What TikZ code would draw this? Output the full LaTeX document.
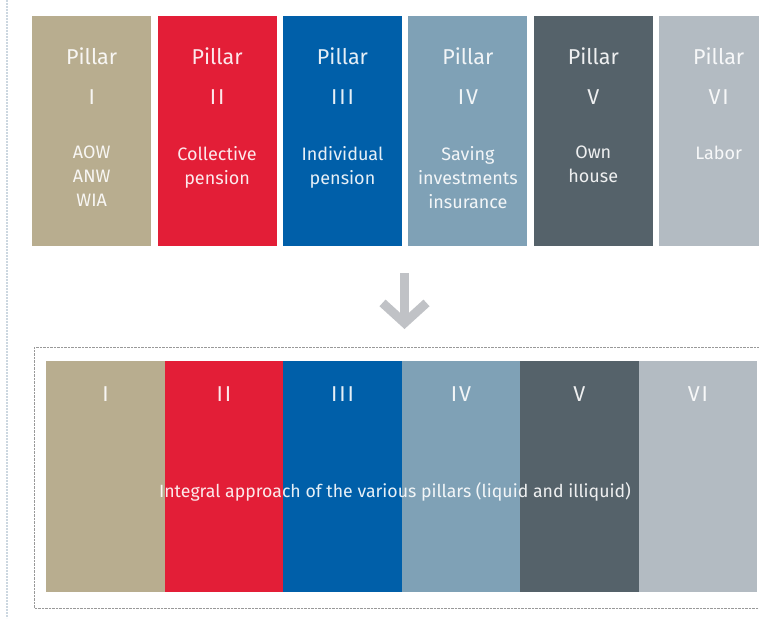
\documentclass[tikz,border=0pt]{standalone}
\usepackage{fontspec}
\setmainfont{Fira Sans}
\newfontfamily\romfont{Fira Sans}[LetterSpace=9]
\usetikzlibrary{arrows.meta,calc}

\definecolor{pbeige}{HTML}{B8AD8F}
\definecolor{pred}{HTML}{E31E37}
\definecolor{pblue}{HTML}{005FA9}
\definecolor{psteel}{HTML}{7FA1B6}
\definecolor{pslate}{HTML}{55626A}
\definecolor{pgrey}{HTML}{B3BBC2}
\definecolor{arrowgrey}{HTML}{C0C2C6}
\definecolor{edgeblue}{HTML}{CCD7E0}

\tikzset{
  pillar/.style={fill=#1, inner sep=0pt, anchor=north west,
    minimum width=119pt, minimum height=230pt},
  strip/.style={fill=#1, inner sep=0pt, anchor=north west,
    minimum width=118.5pt, minimum height=231pt},
  headtxt/.style={text=white, text opacity=0.9, anchor=base, inner sep=0pt,
    font=\fontsize{21.5}{26}\selectfont},
  numtxt/.style={headtxt, font=\romfont\fontsize{21.5}{26}\selectfont},
  desctxt/.style={text=white, text opacity=0.9, anchor=north, inner sep=0pt,
    align=center, font=\fontsize{18}{24}\selectfont},
}

\begin{document}
\begin{tikzpicture}[x=1pt, y=-1pt]
    \useasboundingbox (0,0) rectangle (759,618);

    \draw [edgeblue, line width=2pt, densely dotted] (7,0) -- (7,618);

    % pillars
    \foreach \col/\num/\desc [count=\i] in {pbeige/I/{AOW\\ANW\\WIA},
        pred/II/{Collective\\pension}, pblue/III/{Individual\\pension},
        psteel/IV/{Saving\\investments\\insurance}, pslate/V/{Own\\house},
        pgrey/VI/{Labor}}
    {
        \node [pillar=\col] (p\i) at ({32+125.4*(\i-1)}, 16) {};
        \node [headtxt] (h\i) at ($(p\i.north)+(0,48)$) {Pillar};
        \node [numtxt] (n\i) at ($(p\i.north)+(0,88)$) {\num};
        \node [desctxt] (d\i) at ($(p\i.north)+(0,130)$) {\desc};
    }

    \coordinate (arrtop) at (404.5, 273);
    \coordinate (arrtip) at (404.5, 329);
    \draw [arrowgrey, line width=9pt, -{Straight Barb[length=20pt, width=44pt]}] (arrtop) -- (arrtip);

    % integral view
    \draw [gray!80, densely dotted] (34, 347) rectangle (775, 608);
    \foreach \col/\num [count=\i] in {pbeige/I, pred/II, pblue/III, psteel/IV, pslate/V, pgrey/VI}
    {
        \node [strip=\col] (s\i) at ({46+118.5*(\i-1)}, 361) {};
        \node [numtxt] (r\i) at ($(s\i.north)+(0,40)$) {\num};
    }
    \node [desctxt, anchor=base, font=\fontsize{17.7}{24}\selectfont] (integral) at (395, 497) {Integral approach of the various pillars (liquid and illiquid)};
\end{tikzpicture}
\end{document}
